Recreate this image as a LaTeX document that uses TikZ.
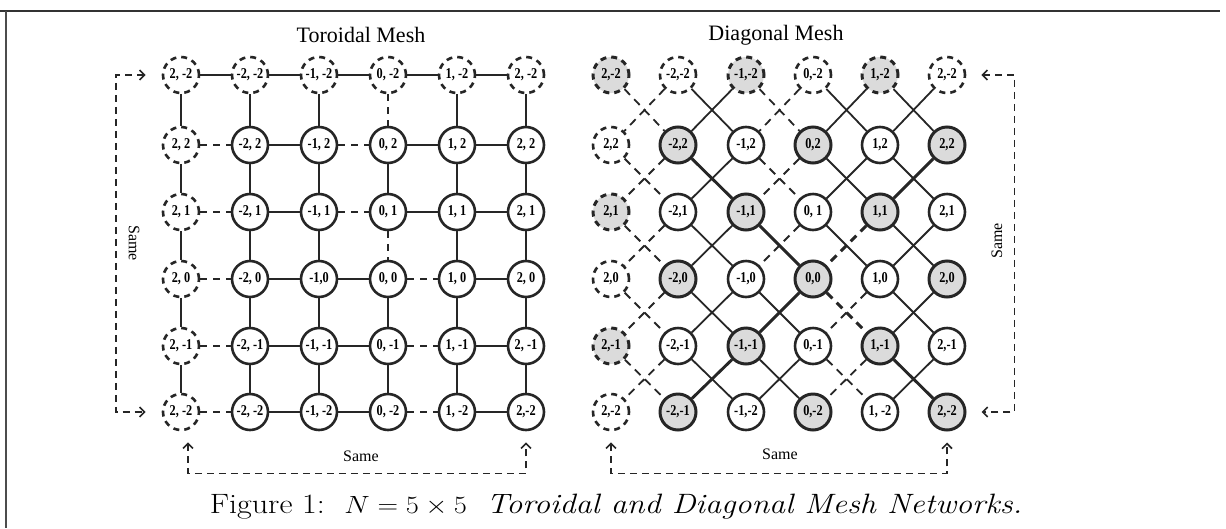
\documentclass[tikz,border=0pt]{standalone}
\usepackage{fontspec}
\newfontfamily\tms{Liberation Serif}
\newfontfamily\labfont[FakeStretch=0.82]{Liberation Serif}
\usetikzlibrary{arrows.meta}
\begin{document}
\begin{tikzpicture}[x=1pt,y=-1pt,
  nd/.style={circle, draw=black!85, line width=2.6pt, minimum size=36pt, inner sep=0pt,
    font=\labfont\bfseries\fontsize{15}{15}\selectfont},
  dnd/.style={nd, dash pattern=on 6pt off 5pt},
  sh/.style={fill=black!14, line width=3pt},
  ted/.style={draw=black!85, line width=2.3pt},
  tde/.style={ted, dash pattern=on 7pt off 6pt},
  ded/.style={draw=black!85, line width=1.8pt},
  dde/.style={ded, dash pattern=on 8pt off 6pt},
  bold/.style={line width=2.9pt},
  wrap/.style={draw=black!85, line width=1.6pt, dash pattern=on 7pt off 5pt,
    {Straight Barb[length=5pt,width=10pt]}-{Straight Barb[length=5pt,width=10pt]}},
  ttl/.style={font=\tms\fontsize{22}{24}\selectfont},
  same/.style={font=\tms\fontsize{16}{18}\selectfont}
]
\useasboundingbox (0,0) rectangle (1226,528);
\draw[black!80, line width=1.8pt] (0,11) -- (1220,11);
\draw[black!70, line width=1.4pt] (6,11) -- (6,528);

\node[ttl] (tt) at (361,35) {Toroidal Mesh};
\node[ttl] (dt) at (776,35) {Diagonal Mesh};

% ---------- Toroidal mesh nodes ----------
\node[dnd] (t00) at (181,75) {2, -2};
\node[dnd] (t10) at (250,75) {-2, -2};
\node[dnd] (t20) at (319,75) {-1, -2};
\node[dnd] (t30) at (388,75) {0, -2};
\node[dnd] (t40) at (457,75) {1, -2};
\node[dnd] (t50) at (526,75) {2, -2};
\node[dnd] (t01) at (181,145) {2, 2};
\node[dnd] (t02) at (181,212) {2, 1};
\node[dnd] (t03) at (181,279) {2, 0};
\node[dnd] (t04) at (181,346) {2, -1};
\node[dnd] (t05) at (181,412) {2, -2};
\node[nd] (t11) at (250,145) {-2, 2};
\node[nd] (t21) at (319,145) {-1, 2};
\node[nd] (t31) at (388,145) {0, 2};
\node[nd] (t41) at (457,145) {1, 2};
\node[nd] (t51) at (526,145) {2, 2};
\node[nd] (t12) at (250,212) {-2, 1};
\node[nd] (t22) at (319,212) {-1, 1};
\node[nd] (t32) at (388,212) {0, 1};
\node[nd] (t42) at (457,212) {1, 1};
\node[nd] (t52) at (526,212) {2, 1};
\node[nd] (t13) at (250,279) {-2, 0};
\node[nd] (t23) at (319,279) {-1,0};
\node[nd] (t33) at (388,279) {0, 0};
\node[nd] (t43) at (457,279) {1, 0};
\node[nd] (t53) at (526,279) {2, 0};
\node[nd] (t14) at (250,346) {-2, -1};
\node[nd] (t24) at (319,346) {-1, -1};
\node[nd] (t34) at (388,346) {0, -1};
\node[nd] (t44) at (457,346) {1, -1};
\node[nd] (t54) at (526,346) {2, -1};
\node[nd] (t15) at (250,412) {-2, -2};
\node[nd] (t25) at (319,412) {-1, -2};
\node[nd] (t35) at (388,412) {0, -2};
\node[nd] (t45) at (457,412) {1, -2};
\node[nd] (t55) at (526,412) {2,-2};

% toroidal edges
\foreach \a/\b in {t00/t10,t10/t20,t20/t30,t30/t40,t40/t50,
  t11/t21,t31/t41,t41/t51, t12/t22,t32/t42,t42/t52,
  t13/t23,t23/t33,t43/t53, t14/t24,t24/t34,t44/t54,
  t15/t25,t25/t35,t45/t55, t31/t32,t33/t34,t34/t35}
  \draw[ted] (\a) -- (\b);
\foreach \c in {0,1,2,4,5}
  \foreach \r/\s in {0/1,1/2,2/3,3/4,4/5}
    \draw[ted] (t\c\r) -- (t\c\s);
\foreach \a/\b in {t01/t11,t21/t31,t02/t12,t22/t32,t03/t13,t33/t43,
  t04/t14,t34/t44,t05/t15,t35/t45,t30/t31,t32/t33}
  \draw[tde] (\a) -- (\b);

% toroidal wrap arrows
\draw[wrap, shorten <=16pt, shorten >=16pt] (t00.west) -- ++(-46,0) |- (t05.west);
\node[same, rotate=-90] (ts1) at (134,243) {Same};
\draw[wrap, shorten <=11pt, shorten >=11pt] ([xshift=7pt]t05.south) -- ++(0,42) -| (t55.south);
\node[same] (ts2) at (361,456) {Same};

% ---------- Diagonal mesh nodes ----------
\node[dnd,sh] (d00) at (611,75) {2,-2};
\node[dnd] (d10) at (678,75) {-2,-2};
\node[dnd,sh] (d20) at (746,75) {-1,-2};
\node[dnd] (d30) at (813,75) {0,-2};
\node[dnd,sh] (d40) at (880,75) {1,-2};
\node[dnd] (d50) at (947,75) {2,-2};
\node[dnd] (d01) at (611,145) {2,2};
\node[dnd,sh] (d02) at (611,212) {2,1};
\node[dnd] (d03) at (611,279) {2,0};
\node[dnd,sh] (d04) at (611,346) {2,-1};
\node[dnd] (d05) at (611,412) {2,-2};
\node[nd,sh] (d11) at (678,145) {-2,2};
\node[nd] (d21) at (746,145) {-1,2};
\node[nd,sh] (d31) at (813,145) {0,2};
\node[nd] (d41) at (880,145) {1,2};
\node[nd,sh] (d51) at (947,145) {2,2};
\node[nd] (d12) at (678,212) {-2,1};
\node[nd,sh] (d22) at (746,212) {-1,1};
\node[nd] (d32) at (813,212) {0, 1};
\node[nd,sh] (d42) at (880,212) {1,1};
\node[nd] (d52) at (947,212) {2,1};
\node[nd,sh] (d13) at (678,279) {-2,0};
\node[nd] (d23) at (746,279) {-1,0};
\node[nd,sh] (d33) at (813,279) {0,0};
\node[nd] (d43) at (880,279) {1,0};
\node[nd,sh] (d53) at (947,279) {2,0};
\node[nd] (d14) at (678,346) {-2,-1};
\node[nd,sh] (d24) at (746,346) {-1,-1};
\node[nd] (d34) at (813,346) {0,-1};
\node[nd,sh] (d44) at (880,346) {1,-1};
\node[nd] (d54) at (947,346) {2,-1};
\node[nd,sh] (d15) at (678,412) {-2,-1};
\node[nd] (d25) at (746,412) {-1,-2};
\node[nd,sh] (d35) at (813,412) {0,-2};
\node[nd] (d45) at (880,412) {1, -2};
\node[nd,sh] (d55) at (947,412) {2,-2};

% diagonal edges
\foreach \a/\b in {d10/d21,d30/d41,d40/d51, d31/d42,d41/d52,
  d12/d23,d32/d43,d42/d53, d13/d24,d23/d34,d43/d54, d14/d25,d24/d35,
  d20/d11,d40/d31,d50/d41, d21/d12,d41/d32, d22/d13,d52/d43,
  d23/d14,d53/d44, d34/d25,d54/d45}
  \draw[ded] (\a) -- (\b);
\foreach \a/\b in {d11/d22,d22/d33,d44/d55,d51/d42,d33/d24,d24/d15}
  \draw[ded,bold] (\a) -- (\b);
\foreach \a/\b in {d00/d11,d20/d31,d01/d12,d21/d32,d02/d13,d03/d14,d04/d15,d34/d45,
  d10/d01,d30/d21,d11/d02,d31/d22,d12/d03,d32/d23,d13/d04,d43/d34,d14/d05,d44/d35}
  \draw[dde] (\a) -- (\b);
\foreach \a/\b in {d33/d44,d42/d33}
  \draw[dde,bold] (\a) -- (\b);

% diagonal wrap arrows
\draw[wrap, shorten <=15pt, shorten >=15pt] (d50.east) -- ++(48,0) |- (d55.east);
\node[same, rotate=90] (ds1) at (997,241) {Same};
\draw[wrap, shorten <=11pt, shorten >=11pt] (d05.south) -- ++(0,42) -| (d55.south);
\node[same] (ds2) at (780,454) {Same};

% caption
\node (cap) at (616,507) {\scalebox{1.145}[1]{\fontsize{28}{30}\selectfont Figure 1:\ \ $N = 5\times 5$\ \ \textit{Toroidal and Diagonal Mesh Networks.}}};
\end{tikzpicture}
\end{document}
